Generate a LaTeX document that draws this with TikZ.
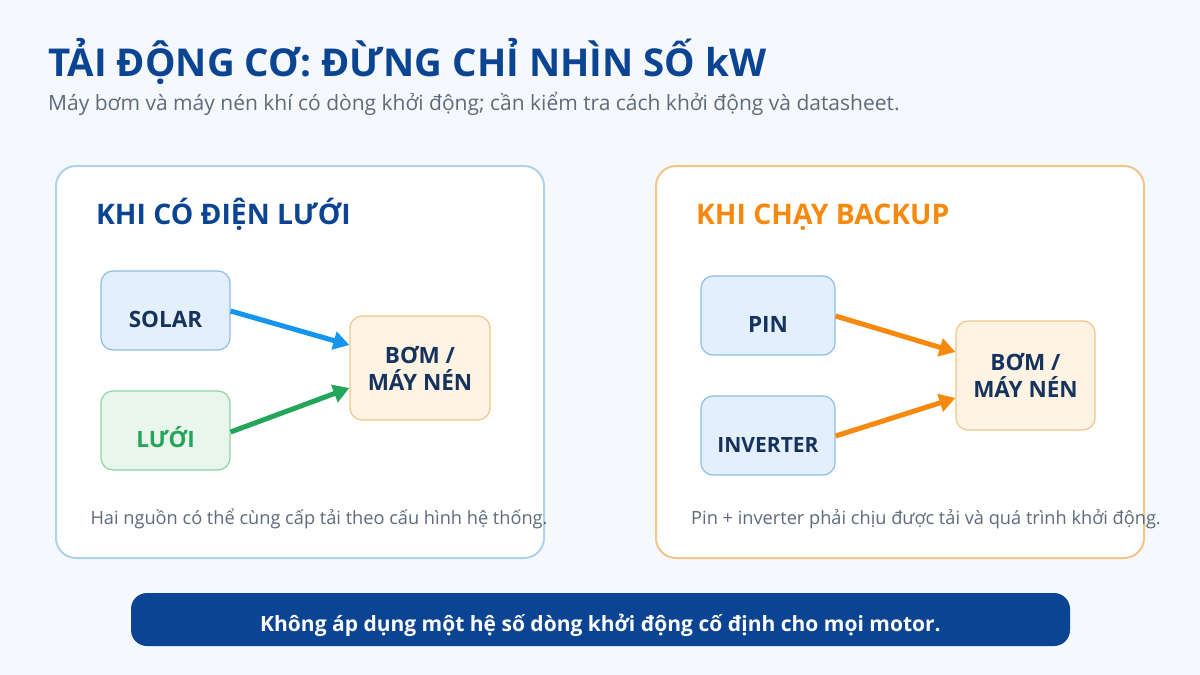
\documentclass[tikz,border=0pt]{standalone}
\usepackage{fontspec}
\setmainfont{Open Sans}
\usetikzlibrary{arrows.meta}
\definecolor{bg}{HTML}{F5F8FC}
\definecolor{navy}{HTML}{0B4492}
\definecolor{gtext}{HTML}{5E6B7C}
\definecolor{dark}{HTML}{16335E}
\definecolor{blueb}{HTML}{E3F0FC}\definecolor{bluel}{HTML}{8DBDE6}
\definecolor{greenb}{HTML}{E8F6EC}\definecolor{greenl}{HTML}{8FD3A5}\definecolor{greent}{HTML}{23A55A}
\definecolor{orb}{HTML}{FFF3E3}\definecolor{orl}{HTML}{F2C58A}
\definecolor{orange}{HTML}{F7890F}
\definecolor{arrblue}{HTML}{1496EE}
\tikzset{
 panel/.style={draw, line width=2pt, fill=white, rounded corners=20pt},
 boxbase/.style={draw, line width=1.2pt, rounded corners=12pt, font=\fontsize{22.5}{27}\selectfont\bfseries, text=dark, align=center, inner sep=0pt},
 box/.style={boxbase, text height=34pt, text depth=0pt},
 captxt/.style={font=\fontsize{18.2}{22}\selectfont, text=gtext},
 arr/.style={line width=5pt, -{Triangle[length=16pt,width=18pt]}},
}
\begin{document}
\begin{tikzpicture}[x=1pt,y=-1pt]
\fill[bg] (0,0) rectangle (1200,675);
\useasboundingbox (0,0) rectangle (1200,675);
\node[anchor=base west, inner sep=0, text=navy, font=\fontsize{38.4}{44}\selectfont\bfseries] (title) at (48,76) {TẢI ĐỘNG CƠ: ĐỪNG CHỈ NHÌN SỐ kW};
\node[anchor=base west, inner sep=0, text=gtext, font=\fontsize{21}{24}\selectfont] (sub) at (48,110) {Máy bơm và máy nén khí có dòng khởi động; cần kiểm tra cách khởi động và datasheet.};
% left panel
\draw[panel, draw=bluel!70] (56,166) rectangle (544,558);
\node[anchor=base west, inner sep=0, text=navy, font=\fontsize{28.3}{30}\selectfont\bfseries] (lh) at (96,224) {KHI CÓ ĐIỆN LƯỚI};
\node[box, fill=blueb, draw=bluel, minimum width=129pt, minimum height=79pt] (solar) at (165.5,310.5) {SOLAR};
\node[box, fill=greenb, draw=greenl, text=greent, minimum width=129pt, minimum height=79pt] (luoi) at (165.5,430.5) {LƯỚI};
\node[boxbase, fill=orb, draw=orl, minimum width=140pt, minimum height=104pt] (bom1) at (420,368) {BƠM /\\MÁY NÉN};
\draw[arr, arrblue] (solar.east |- 0,311) -- (bom1.west |- 0,345);
\draw[arr, greent] (luoi.east |- 0,432) -- (bom1.west |- 0,388);
\node[captxt] (c1) at (319,519) {Hai nguồn có thể cùng cấp tải theo cấu hình hệ thống.};
% right panel
\draw[panel, draw=orl] (656,166) rectangle (1144,558);
\node[anchor=base west, inner sep=0, text=orange, font=\fontsize{28.3}{30}\selectfont\bfseries] (rh) at (696,224) {KHI CHẠY BACKUP};
\node[box, fill=blueb, draw=bluel, minimum width=134pt, minimum height=79pt] (pin) at (768,315.5) {PIN};
\node[box, fill=blueb, draw=bluel, minimum width=134pt, minimum height=79pt, font=\fontsize{21}{24}\selectfont\bfseries] (inv) at (768,435.5) {INVERTER};
\node[boxbase, fill=orb, draw=orl, minimum width=139pt, minimum height=109pt] (bom2) at (1025.5,375.5) {BƠM /\\MÁY NÉN};
\draw[arr, orange] (pin.east |- 0,316) -- (bom2.west |- 0,352);
\draw[arr, orange] (inv.east |- 0,436) -- (bom2.west |- 0,398);
\node[captxt] (c2) at (926,519) {Pin + inverter phải chịu được tải và quá trình khởi động.};
% bottom bar
\node[fill=navy, rounded corners=16pt, minimum width=939pt, minimum height=53pt, text=white, font=\fontsize{21}{24}\selectfont\bfseries, text height=24pt, text depth=0pt] (bar) at (600.5,619.5) {Không áp dụng một hệ số dòng khởi động cố định cho mọi motor.};
\end{tikzpicture}
\end{document}
